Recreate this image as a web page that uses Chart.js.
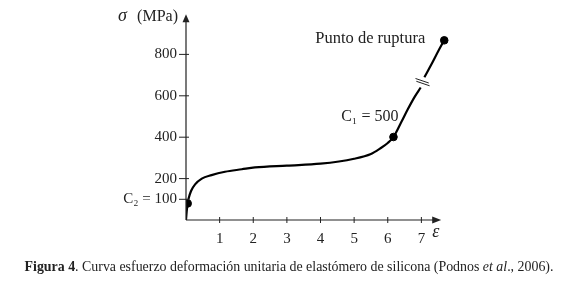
<!DOCTYPE html>
<html>
<head>
<meta charset="utf-8">
<script src="https://cdn.jsdelivr.net/npm/chart.js@4.4.1/dist/chart.umd.min.js"></script>
<style>
  html, body { margin: 0; padding: 0; background: #fff; }
  #wrap { position: relative; width: 578px; height: 293px; }
  #c { position: absolute; left: 0; top: 0; }
  #cap { position: absolute; left: 0; top: 259px; width: 578px; text-align: center;
         font-family: "Liberation Serif", "DejaVu Serif", serif; font-size: 13.9px; color: #222; white-space: nowrap; }
</style>
</head>
<body>
<div id="wrap">
  <canvas id="c" width="578" height="293"></canvas>
  <div id="cap"><b>Figura 4</b>. Curva esfuerzo deformación unitaria de elastómero de silicona (Podnos <i>et al</i>., 2006).</div>
</div>
<script>
// Curve (strain ε, stress σ in MPa); null marks the axis break
const strainX = [0, 0.02, 0.05, 0.08, 0.15, 0.27, 0.47, 0.76, 1.16, 1.66, 2.05, 3.0, 4.0, 5.0, 5.5, 5.77, 6.0, 6.17, 6.4, 6.6, 6.8, 6.98, 7.03, 7.09, 7.3, 7.5, 7.6, 7.68];
const stressY = [0, 40, 80, 105, 140, 172, 200, 217, 233, 245, 254, 263, 272, 296, 319, 345, 372, 401, 472, 536, 595, 640, null, 690, 752, 815, 845, 868];
// Marked points: C2, C1, rupture
const markX = [0.05, 6.17, 7.68];
const markY = [80, 401, 868];
// Axis ticks
const xTicks = [1, 2, 3, 4, 5, 6, 7];
const yTicks = [100, 200, 400, 600, 800];
const yTickLabels = ['C₂ = 100', '200', '400', '600', '800'];
const breakAt = [7.035, 666];

const FONT = '"Liberation Serif", "DejaVu Serif", serif';
const INK = '#222';

const curve = strainX.map((x, i) => ({x: x, y: stressY[i]}));
const marks = markX.map((x, i) => ({x: x, y: markY[i]}));

const decor = {
  id: 'decor',
  afterDatasetsDraw(chart) {
    const ctx = chart.ctx, xs = chart.scales.x, ys = chart.scales.y;
    const x0 = xs.getPixelForValue(0), y0 = ys.getPixelForValue(0);
    const yTop = ys.getPixelForValue(994), xEnd = xs.getPixelForValue(7.59);
    ctx.save();
    ctx.strokeStyle = INK; ctx.fillStyle = INK; ctx.lineWidth = 1.2;
    // axes
    ctx.beginPath();
    ctx.moveTo(x0, y0); ctx.lineTo(x0, yTop + 6);
    ctx.moveTo(x0, y0); ctx.lineTo(xEnd - 6, y0);
    ctx.stroke();
    // arrows
    ctx.beginPath();
    ctx.moveTo(x0, yTop); ctx.lineTo(x0 - 3.5, yTop + 8); ctx.lineTo(x0 + 3.5, yTop + 8); ctx.closePath(); ctx.fill();
    ctx.beginPath();
    ctx.moveTo(xEnd, y0); ctx.lineTo(xEnd - 9, y0 - 3.5); ctx.lineTo(xEnd - 9, y0 + 3.5); ctx.closePath(); ctx.fill();
    // tick marks
    ctx.lineWidth = 1;
    ctx.beginPath();
    yTicks.forEach(v => { const p = ys.getPixelForValue(v); ctx.moveTo(x0 - 7, p); ctx.lineTo(x0 + 3, p); });
    xTicks.forEach(v => { const p = xs.getPixelForValue(v); ctx.moveTo(p, y0 - 3); ctx.lineTo(p, y0 + 3); });
    ctx.stroke();
    // break symbol
    const bx = xs.getPixelForValue(breakAt[0]), by = ys.getPixelForValue(breakAt[1]);
    const ang = Math.atan(0.34), L = 7;
    const dx = Math.cos(ang) * L, dy = Math.sin(ang) * L;
    ctx.lineWidth = 1;
    ctx.beginPath();
    [-1.4, 1.4].forEach(o => {
      ctx.moveTo(bx - dx + 0.3 * o, by - dy + o); ctx.lineTo(bx + dx + 0.3 * o, by + dy + o);
    });
    ctx.stroke();
    // text annotations
    ctx.fillStyle = INK;
    ctx.textBaseline = 'alphabetic';
    ctx.font = '16.5px ' + FONT;
    ctx.textAlign = 'right';
    ctx.fillText('Punto de ruptura', xs.getPixelForValue(markX[2]) - 19, ys.getPixelForValue(markY[2]) + 3);
    ctx.font = '16px ' + FONT;
    ctx.fillText('C₁ = 500', xs.getPixelForValue(markX[1]) + 5, ys.getPixelForValue(markY[1]) - 16);
    // axis titles
    ctx.textAlign = 'right';
    ctx.font = '16px ' + FONT;
    ctx.fillText('(MPa)', x0 - 8, ys.getPixelForValue(960));
    ctx.font = 'italic 18px ' + FONT;
    ctx.textAlign = 'left';
    ctx.fillText('σ', x0 - 68, ys.getPixelForValue(960));
    ctx.fillText('ε', xs.getPixelForValue(7.32), y0 + 17);
    ctx.restore();
  }
};

new Chart(document.getElementById('c'), {
  type: 'line',
  data: {
    datasets: [
      { data: curve, borderColor: '#000', borderWidth: 2.2, pointRadius: 0, fill: false,
        cubicInterpolationMode: 'monotone', spanGaps: false },
      { type: 'scatter', data: marks, backgroundColor: '#000', borderColor: '#000', pointRadius: 3.8, showLine: false }
    ]
  },
  options: {
    responsive: false, animation: false, events: [],
    layout: { padding: { left: 0, right: 123, top: 13, bottom: 0 } },
    plugins: { legend: { display: false }, tooltip: { enabled: false }, title: { display: false } },
    scales: {
      x: {
        type: 'linear', min: 0, max: 8,
        grid: { display: false }, border: { display: false },
        afterBuildTicks: s => { s.ticks = xTicks.map(v => ({value: v})); },
        afterFit: s => { s.height = 73; s.paddingLeft = 0; s.paddingRight = 0; },
        ticks: { padding: 2, font: { family: FONT, size: 15 }, color: INK, callback: v => String(v) }
      },
      y: {
        type: 'linear', min: 0, max: 1000,
        grid: { display: false }, border: { display: false },
        afterBuildTicks: s => { s.ticks = yTicks.map(v => ({value: v})); },
        afterFit: s => { s.width = 186; s.paddingTop = 0; s.paddingBottom = 0; },
        ticks: { padding: 1, font: { family: FONT, size: 15 }, color: INK,
                 callback: v => { const i = yTicks.indexOf(v); return i >= 0 ? yTickLabels[i] : ''; } }
      }
    }
  },
  plugins: [decor]
});
</script>
</body>
</html>
